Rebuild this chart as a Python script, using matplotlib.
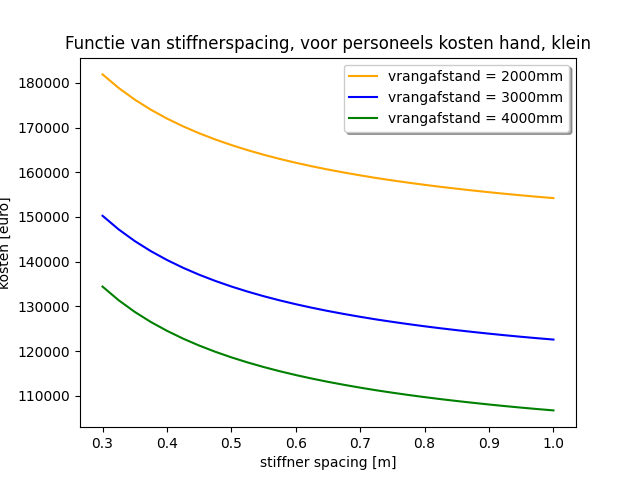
import matplotlib
matplotlib.use("Agg")
import matplotlib.pyplot as plt

spacing = [0.300, 0.325, 0.350, 0.375, 0.400, 0.425, 0.450, 0.475, 0.500, 0.525,
           0.550, 0.575, 0.600, 0.625, 0.650, 0.675, 0.700, 0.725, 0.750, 0.775,
           0.800, 0.825, 0.850, 0.875, 0.900, 0.925, 0.950, 0.975, 1.000]
kosten_2000 = [181900, 178870, 176260, 174000, 172020, 170280, 168730, 167340, 166090, 164960,
               163930, 162990, 162130, 161340, 160610, 159940, 159310, 158720, 158180, 157670,
               157190, 156740, 156320, 155920, 155540, 155180, 154840, 154520, 154220]
kosten_3000 = [150270, 147220, 144610, 142350, 140380, 138630, 137080, 135690, 134440, 133310,
               132280, 131340, 130480, 129690, 128960, 128290, 127660, 127070, 126530, 126020,
               125540, 125090, 124670, 124270, 123890, 123530, 123190, 122870, 122570]
kosten_4000 = [134420, 131370, 128760, 126500, 124530, 122780, 121230, 119840, 118590, 117460,
               116430, 115490, 114630, 113840, 113110, 112440, 111810, 111220, 110680, 110170,
               109690, 109240, 108820, 108420, 108040, 107680, 107340, 107020, 106720]

fig, ax = plt.subplots(figsize=(6.4, 4.8), dpi=100)
ax.plot(spacing, kosten_2000, color="orange", label="vrangafstand = 2000mm")
ax.plot(spacing, kosten_3000, color="blue", label="vrangafstand = 3000mm")
ax.plot(spacing, kosten_4000, color="green", label="vrangafstand = 4000mm")
ax.set_title("Functie van stiffnerspacing, voor personeels kosten hand, klein")
ax.set_xlabel("stiffner spacing [m]")
ax.set_ylabel("kosten [euro]")
ax.legend(loc="upper right", shadow=True)
fig.savefig("out.png")
